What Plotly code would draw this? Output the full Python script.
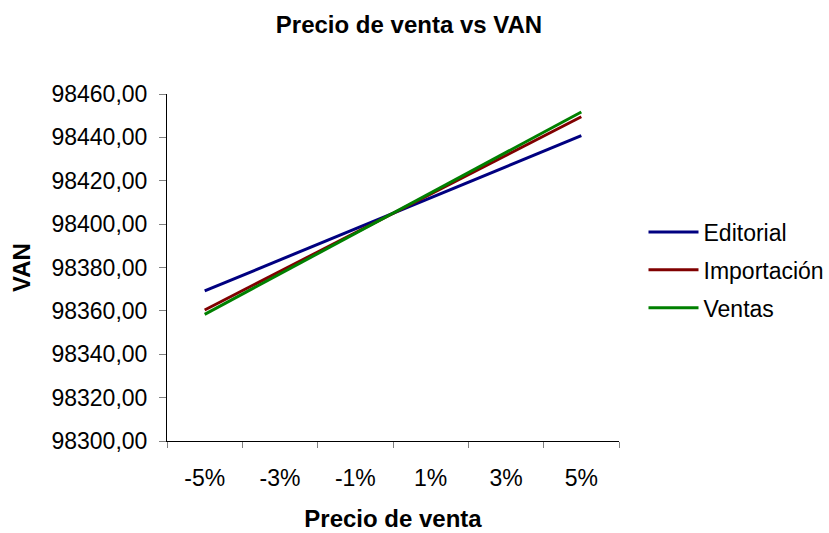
import plotly.graph_objects as go

categories = ["-5%", "-3%", "-1%", "1%", "3%", "5%"]
editorial = [98369.2, 98383.5, 98397.8, 98412.2, 98426.5, 98440.8]
importacion = [98360.4, 98378.2, 98396.1, 98413.9, 98431.7, 98449.5]
ventas = [98358.4, 98377.1, 98395.7, 98414.3, 98433.0, 98451.7]

series_names = ["Editorial", "Importación", "Ventas"]
series_values = [editorial, importacion, ventas]
series_colors = ["#000080", "#800000", "#008000"]

FONT = "Liberation Sans, Arial, sans-serif"

fig = go.Figure()
for name, vals, col in zip(series_names, series_values, series_colors):
    fig.add_trace(go.Scatter(
        x=categories, y=vals, mode="lines", name=name,
        line=dict(color=col, width=3), legendgroup=name,
    ))

fig.update_layout(
    width=829, height=533,
    margin=dict(l=167, r=210, t=94, b=92),
    paper_bgcolor="white", plot_bgcolor="white",
    separators=",.",
    font=dict(family=FONT, size=23, color="black"),
    title=dict(text="<b>Precio de venta vs VAN</b>", font=dict(size=24, family=FONT, color="black"),
               x=409 / 829, xanchor="center", xref="container",
               y=1 - 25 / 533, yanchor="middle", yref="container"),
    showlegend=True,
    legend=dict(x=643.5 / 829, xanchor="left", xref="container",
                y=1 - 270 / 533, yanchor="middle", yref="container",
                font=dict(size=23, family=FONT, color="black"),
                itemwidth=50, tracegroupgap=5, bgcolor="rgba(0,0,0,0)"),
    xaxis=dict(
        type="category", categoryorder="array", categoryarray=categories,
        range=[-0.5, 5.5], showgrid=False, zeroline=False, automargin=False,
        showline=True, linecolor="black", linewidth=1,
        ticks="outside", tickson="boundaries", ticklen=6, tickcolor="#808080", tickwidth=1,
        tickfont=dict(size=23, family=FONT, color="black"),
        ticklabelstandoff=16,
        title=dict(text="<b>Precio de venta</b>", font=dict(size=24, family=FONT, color="black"), standoff=20),
    ),
    yaxis=dict(
        range=[98300, 98460], dtick=20, tick0=98300, tickformat=".2f",
        showgrid=False, zeroline=False, automargin=False,
        showline=True, linecolor="black", linewidth=1,
        ticks="outside", ticklen=7, tickcolor="#808080", tickwidth=1,
        tickfont=dict(size=23, family=FONT, color="black"),
        ticklabelstandoff=7,
        title=dict(text="<b>VAN</b>", font=dict(size=24, family=FONT, color="black"), standoff=14),
    ),
)

fig.write_html("out.html", config={"displayModeBar": False},
               post_script="document.body.style.margin='0px';document.body.style.overflow='hidden';")
